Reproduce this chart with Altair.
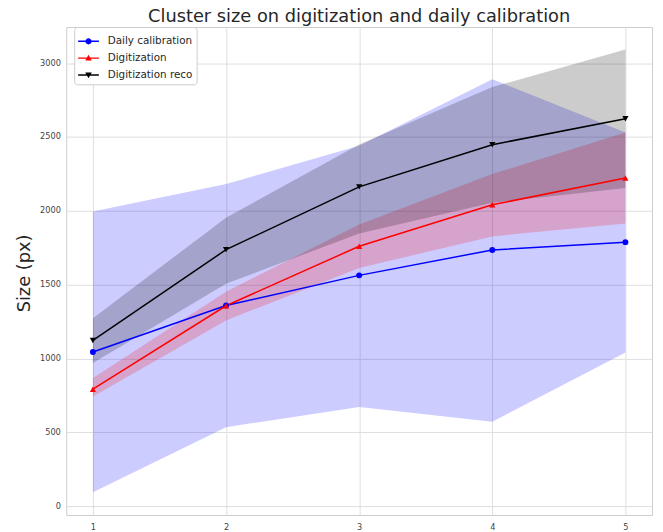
import altair as alt
import pandas as pd

# ---------------- data ----------------
x_vals = [1, 2, 3, 4, 5]
series_names = ["Daily calibration", "Digitization", "Digitization reco"]

daily = [1044, 1359, 1563, 1735, 1788]
daily_lo = [94, 535, 672, 572, 1040]
daily_hi = [1995, 2182, 2440, 2892, 2530]

digit = [792, 1357, 1760, 2041, 2222]
digit_lo = [743, 1258, 1613, 1827, 1914]
digit_hi = [868, 1452, 1908, 2249, 2530]

reco = [1122, 1737, 2162, 2448, 2624]
reco_lo = [970, 1506, 1847, 2055, 2155]
reco_hi = [1272, 1954, 2450, 2838, 3092]

y_ticks = [0, 500, 1000, 1500, 2000, 2500, 3000]
colors = ["#0000ff", "#ff0000", "#000000"]
point_shapes = ["circle", "triangle-up", "triangle-down"]

rows = []
for name, mid, lo, hi in [
    (series_names[0], daily, daily_lo, daily_hi),
    (series_names[1], digit, digit_lo, digit_hi),
    (series_names[2], reco, reco_lo, reco_hi),
]:
    for xi, m, l, h in zip(x_vals, mid, lo, hi):
        rows.append({"series": name, "x": xi, "y": m, "lo": l, "hi": h})
df = pd.DataFrame(rows)

# legend symbols: a short line with the marker on it (all sub-paths clockwise)
bar = "M-1,-0.07 H1 V0.07 H-1 Z "
legend_paths = [
    bar + "M-0.3,0 A0.3,0.3 0 1,1 0.3,0 A0.3,0.3 0 1,1 -0.3,0 Z",
    bar + "M0,-0.33 L0.32,0.24 L-0.32,0.24 Z",
    bar + "M0,0.33 L-0.32,-0.24 L0.32,-0.24 Z",
]

FONT = "DejaVu Sans"
xenc = alt.X(
    "x:Q",
    scale=alt.Scale(domain=[0.8, 5.2], nice=False, zero=False),
    axis=alt.Axis(values=x_vals, format="d", title=None, labelPadding=8),
)
yscale = alt.Scale(domain=[-60, 3245], nice=False, zero=False)
yaxis = alt.Axis(
    values=y_ticks,
    format="d",
    title="Size (px)",
    titleFontSize=18,
    titleFontWeight="normal",
    titleColor="#262626",
    titleFont=FONT,
    titleX=-42,
    titleY=249,
    titleAngle=270,
    titleAlign="center",
    titleBaseline="middle",
)

base = alt.Chart(df)

band_layers, line_layers, point_layers = [], [], []
for name, col, shp, sz in zip(series_names, colors, point_shapes, [36, 40, 40]):
    sub = base.transform_filter(alt.datum.series == name)
    band_layers.append(
        sub.mark_area(opacity=0.2, color=col).encode(
            x=xenc, y=alt.Y("lo:Q", scale=yscale, axis=yaxis), y2="hi:Q"
        )
    )
    line_layers.append(
        sub.mark_line(strokeWidth=1.5, color=col).encode(
            x=xenc, y=alt.Y("y:Q", scale=yscale, axis=yaxis)
        )
    )
    point_layers.append(
        sub.mark_point(filled=True, shape=shp, size=sz, opacity=1, color=col).encode(
            x=xenc, y=alt.Y("y:Q", scale=yscale, axis=yaxis)
        )
    )

# legend-only layer: its marks have size 0 on the plot, the legend shows the symbols
legend_layer = base.mark_point(filled=True, size=0, opacity=1, fillOpacity=1).encode(
    x=xenc,
    y=alt.Y("y:Q", scale=yscale, axis=yaxis),
    color=alt.Color(
        "series:N",
        scale=alt.Scale(domain=series_names, range=colors),
        legend=alt.Legend(
            title=None,
            orient="none",
            legendX=8,
            legendY=0,
            labelFont=FONT,
            labelFontSize=10.5,
            labelColor="#262626",
            symbolSize=441,
            symbolOpacity=1,
            symbolStrokeWidth=0,
            labelOffset=9,
            rowPadding=1,
            padding=4,
            strokeColor="#cccccc",
            fillColor="#ffffff",
            cornerRadius=3,
        ),
    ),
    shape=alt.Shape(
        "series:N",
        scale=alt.Scale(domain=series_names, range=legend_paths),
        legend=alt.Legend(title=None),
    ),
)

chart = (
    alt.layer(*band_layers, *line_layers, *point_layers, legend_layer)
    .properties(
        width=593,
        height=494,
        autosize=alt.AutoSizeParams(type="none"),
        padding={"left": 59, "top": 16, "right": 3, "bottom": 16},
        title=alt.TitleParams(
            "Cluster size on digitization and daily calibration",
            font=FONT,
            fontSize=18,
            fontWeight="normal",
            color="#262626",
            anchor="middle",
            offset=1,
        ),
    )
    .configure_view(stroke="#cccccc", strokeWidth=1)
    .configure_axis(
        grid=True,
        gridColor="#dedede",
        gridWidth=1,
        ticks=False,
        domain=False,
        labelFont=FONT,
        labelFontSize=8.3,
        labelColor="#444444",
        labelPadding=6,
    )
)

chart.save("out.html", embed_options={"renderer": "svg", "actions": False})
